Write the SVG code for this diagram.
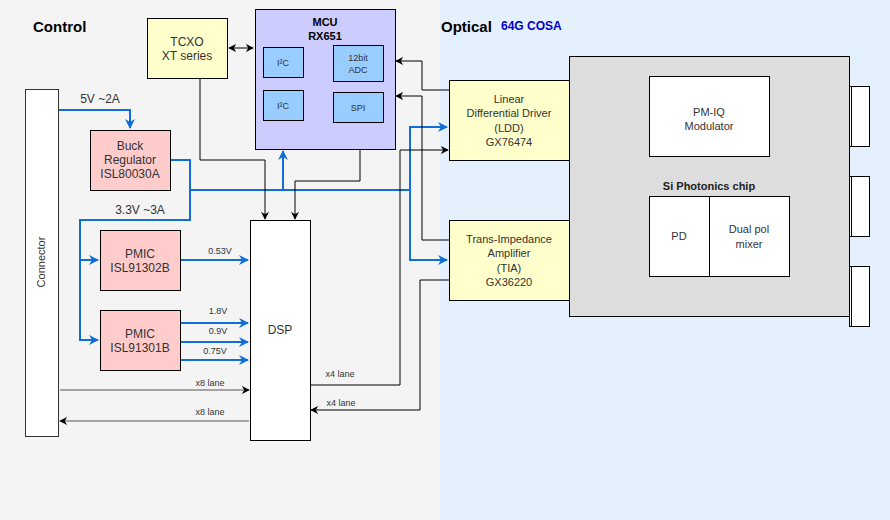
<svg xmlns="http://www.w3.org/2000/svg" width="890" height="520" viewBox="0 0 890 520">
<style>
text{font-family:"Liberation Sans",Arial,sans-serif;fill:#333;text-anchor:middle}
.t11{font-size:11px}
.t12{font-size:12px}
.t9{font-size:9px}
.lbl{font-size:9px}
.bold{font-weight:bold;fill:#000}
.box{stroke:#000;stroke-width:1}
.blue{fill:none;stroke:#0f6fd6;stroke-width:2}
.blk{fill:none;stroke:#000;stroke-width:1}
.gry{fill:none;stroke:#555;stroke-width:1.2}
</style>
<defs>
<marker id="ab" viewBox="0 0 10 10" refX="9" refY="5" markerWidth="5" markerHeight="5" orient="auto-start-reverse" markerUnits="strokeWidth"><path d="M0,0 L10,5 L0,10 L3,5 z" fill="#0f6fd6"/></marker>
<marker id="ak" viewBox="0 0 10 10" refX="9" refY="5" markerWidth="8" markerHeight="8" orient="auto-start-reverse" markerUnits="userSpaceOnUse"><path d="M0,0 L10,5 L0,10 L3,5 z" fill="#000"/></marker>
</defs>
<rect x="0" y="0" width="440" height="520" fill="#f4f4f4"/>
<rect x="440" y="0" width="450" height="520" fill="#e5f0fd"/>
<text x="33" y="32" class="bold" style="font-size:15px;text-anchor:start">Control</text>
<text x="441" y="32" class="bold" style="font-size:15px;text-anchor:start">Optical</text>
<text x="501" y="30" style="font-size:12px;font-weight:bold;fill:#0000cc;text-anchor:start">64G COSA</text>

<g id="connectors">
<path class="blue" d="M58,175 L58,110 L130,110 L130,128" marker-end="url(#ab)"/>
<path class="blue" d="M170,160 L190,160 L190,190 L410,190"/>
<path class="blue" d="M283,190 L283,151" marker-end="url(#ab)"/>
<path class="blue" d="M410,190 L410,127 L447,127" marker-end="url(#ab)"/>
<path class="blue" d="M410,190 L410,260 L447,260" marker-end="url(#ab)"/>
<path class="blue" d="M190,190 L190,220 L80,220 L80,340 L98,340" marker-end="url(#ab)"/>
<path class="blue" d="M80,260 L98,260" marker-end="url(#ab)"/>
<path class="blue" d="M180,260 L248,260" marker-end="url(#ab)"/>
<path class="blue" d="M180,323 L248,323" marker-end="url(#ab)"/>
<path class="blue" d="M180,342 L248,342" marker-end="url(#ab)"/>
<path class="blue" d="M180,360 L248,360" marker-end="url(#ab)"/>
<path class="blk" d="M229,48 L253,48" marker-start="url(#ak)" marker-end="url(#ak)"/>
<path class="blk" d="M200,78 L200,160 L265,160 L265,219" marker-end="url(#ak)"/>
<path class="blk" d="M360,123 L360,181 L295,181 L295,219" marker-start="url(#ak)" marker-end="url(#ak)"/>
<path class="blk" d="M449,90 L422,90 L422,61 L396,61" marker-end="url(#ak)"/>
<path class="blk" d="M449,240 L422,240 L422,96 L396,96" marker-end="url(#ak)"/>
<path class="blk" d="M310,385 L400,385 L400,150 L448,150" marker-end="url(#ak)"/>
<path class="blk" d="M449,280 L420,280 L420,410 L311,410" marker-end="url(#ak)"/>
<path class="gry" d="M60,390 L249,390" marker-end="url(#ak)"/>
<path class="gry" d="M249,421 L60,421" marker-end="url(#ak)"/>
<text x="100" y="103" class="t12" style="text-anchor:middle">5V ~2A</text>
<text x="140" y="214" class="t12">3.3V ~3A</text>
<text x="220" y="254" class="lbl">0.53V</text>
<text x="218" y="314" class="lbl">1.8V</text>
<text x="218" y="334" class="lbl">0.9V</text>
<text x="215" y="354" class="lbl">0.75V</text>
<text x="210" y="386" class="lbl">x8 lane</text>
<text x="210" y="415" class="lbl">x8 lane</text>
<text x="340" y="377" class="lbl">x4 lane</text>
<text x="341" y="406" class="lbl">x4 lane</text>
</g>

<g id="connector">
<rect x="25.5" y="89.5" width="33" height="347" fill="#fff" stroke="#333"/>
<text transform="translate(45,262) rotate(-90)" class="t11">Connector</text>
</g>
<g id="tcxo">
<rect class="box" x="147.5" y="18.5" width="80" height="60" fill="#ffffcc"/>
<text x="187" y="46" class="t12">TCXO</text>
<text x="187" y="60" class="t12">XT series</text>
</g>
<g id="mcu">
<rect class="box" x="255.5" y="9.5" width="140" height="140" fill="#ccccff"/>
<text x="325" y="26" class="t11 bold">MCU</text>
<text x="325" y="40" class="t11 bold">RX651</text>
<rect class="box" x="263.5" y="47.5" width="40" height="30" fill="#99ccff"/>
<text x="283" y="66" class="t9">I²C</text>
<rect class="box" x="263.5" y="90.5" width="40" height="30" fill="#99ccff"/>
<text x="283" y="109" class="t9">I²C</text>
<rect class="box" x="333.5" y="45.5" width="50" height="36" fill="#99ccff"/>
<text x="358" y="61" class="t9">12bit</text>
<text x="358" y="73" class="t9">ADC</text>
<rect class="box" x="333.5" y="92.5" width="50" height="30" fill="#99ccff"/>
<text x="358" y="111" class="t9">SPI</text>
</g>
<g id="buck">
<rect class="box" x="90.5" y="130.5" width="80" height="60" fill="#ffcccc"/>
<text x="130" y="150" class="t12">Buck</text>
<text x="130" y="164" class="t12">Regulator</text>
<text x="130" y="178" class="t12">ISL80030A</text>
</g>
<g id="pmic1">
<rect class="box" x="100.5" y="230.5" width="80" height="60" fill="#ffcccc"/>
<text x="140" y="258" class="t12">PMIC</text>
<text x="140" y="272" class="t12">ISL91302B</text>
</g>
<g id="pmic2">
<rect class="box" x="100.5" y="310.5" width="80" height="60" fill="#ffcccc"/>
<text x="140" y="338" class="t12">PMIC</text>
<text x="140" y="352" class="t12">ISL91301B</text>
</g>
<g id="dsp">
<rect class="box" x="250.5" y="220.5" width="60" height="220" fill="#fff"/>
<text x="280" y="334" class="t12">DSP</text>
</g>
<g id="ldd">
<rect class="box" x="449.5" y="80.5" width="120" height="80" fill="#ffffcc"/>
<text x="509" y="103" class="t11">Linear</text>
<text x="509" y="117" class="t11">Differential Driver</text>
<text x="509" y="132" class="t11">(LDD)</text>
<text x="509" y="146" class="t11">GX76474</text>
</g>
<g id="tia">
<rect class="box" x="449.5" y="220.5" width="120" height="80" fill="#ffffcc"/>
<text x="509" y="243" class="t11">Trans-Impedance</text>
<text x="509" y="257" class="t11">Amplifier</text>
<text x="509" y="272" class="t11">(TIA)</text>
<text x="509" y="286" class="t11">GX36220</text>
</g>
<g id="chip">
<rect class="box" x="569.5" y="56.5" width="280" height="260" fill="#dddddd"/>
<text x="709" y="190" class="t11 bold" style="fill:#222">Si Photonics chip</text>
</g>
<g id="modulator">
<rect class="box" x="649.5" y="76.5" width="120" height="80" fill="#fff"/>
<text x="709" y="116" class="t11">PM-IQ</text>
<text x="709" y="130" class="t11">Modulator</text>
</g>
<g id="pd">
<rect class="box" x="649.5" y="196.5" width="60" height="80" fill="#fff"/>
<text x="679" y="240" class="t11">PD</text>
</g>
<g id="mixer">
<rect class="box" x="709.5" y="196.5" width="80" height="80" fill="#fff"/>
<text x="749" y="233" class="t11">Dual pol</text>
<text x="749" y="248" class="t11">mixer</text>
</g>
<g id="port1">
<rect class="box" x="849.5" y="86.5" width="20" height="60" fill="#fff"/>
<line x1="851.5" y1="86.5" x2="851.5" y2="146.5" stroke="#000"/>
</g>
<g id="port2">
<rect class="box" x="849.5" y="176.5" width="20" height="60" fill="#fff"/>
<line x1="851.5" y1="176.5" x2="851.5" y2="236.5" stroke="#000"/>
</g>
<g id="port3">
<rect class="box" x="849.5" y="266.5" width="20" height="60" fill="#fff"/>
<line x1="851.5" y1="266.5" x2="851.5" y2="326.5" stroke="#000"/>
</g>
</svg>
